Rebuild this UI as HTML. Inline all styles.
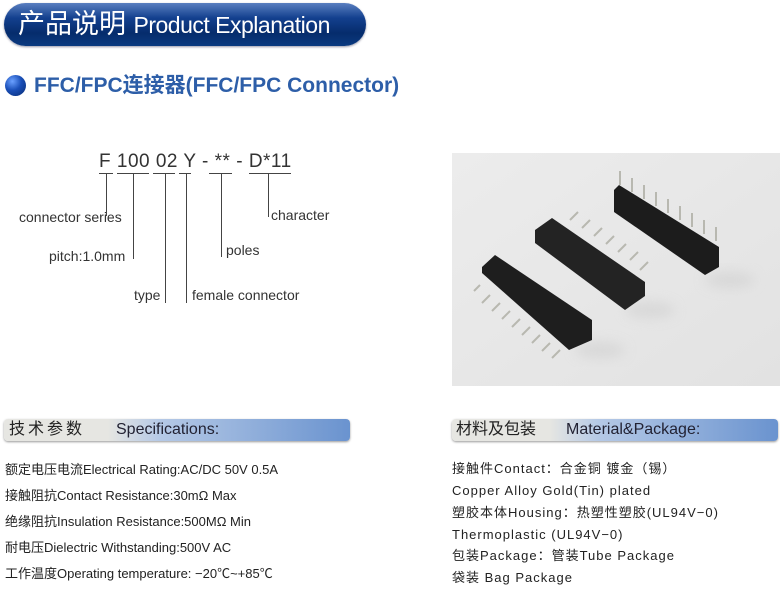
<!DOCTYPE html>
<html><head><meta charset="utf-8"><style>
body{margin:0;width:780px;height:591px;background:#fff;position:relative;overflow:hidden;font-family:"Liberation Sans","Noto Sans CJK SC",sans-serif}
.a{position:absolute;white-space:nowrap}
.pill{left:4px;top:3px;width:362px;height:43px;border-radius:22px;background:linear-gradient(#5a7fc0 0%,#13408e 35%,#062c6c 70%,#0a3a80 100%);box-shadow:0 1px 2px #99a}
.ln{position:absolute;background:#444}
.d{font-size:14px;color:#333;line-height:16px}
.bar{height:22px;border-radius:4px;background:linear-gradient(90deg,#e6e6e2 0%,#e6e6e2 30%,#b5c9e6 45%,#6a93cf 100%);box-shadow:0 1px 2px #999}
.bt{font-size:16px;color:#222;line-height:22px;top:419px}
.s{font-size:13px;color:#222;line-height:16px}
.r{font-size:13px;color:#222;letter-spacing:1px;line-height:18px}
</style></head><body>
<div class="a pill"></div>
<div class="a" style="left:18px;top:7px;color:#fff;font-size:27px;line-height:34px">产品说明 <span style="font-size:23px;letter-spacing:-0.5px">Product Explanation</span></div>
<div class="a" style="left:5px;top:75px;width:21px;height:21px;border-radius:50%;background:radial-gradient(circle at 35% 30%,#6aa0ff,#1a4fb8 45%,#062a70 100%)"></div>
<div class="a" style="left:34px;top:72px;color:#2d5ea8;font-size:21px;font-weight:bold;line-height:28px">FFC/FPC连接器(FFC/FPC Connector)</div>

<div class="a" style="left:99px;top:151px;font-size:19px;color:#333;letter-spacing:0.5px;line-height:22px">F 100 02 Y - ** - D*11</div>
<div class="ln" style="left:99px;top:173px;width:14px;height:1px"></div>
<div class="ln" style="left:117px;top:173px;width:32px;height:1px"></div>
<div class="ln" style="left:153px;top:173px;width:22px;height:1px"></div>
<div class="ln" style="left:179px;top:173px;width:12px;height:1px"></div>
<div class="ln" style="left:209px;top:173px;width:23px;height:1px"></div>
<div class="ln" style="left:249px;top:173px;width:42px;height:1px"></div>
<div class="ln" style="left:106px;top:173px;width:1px;height:43px"></div>
<div class="ln" style="left:133px;top:173px;width:1px;height:86px"></div>
<div class="ln" style="left:165px;top:173px;width:1px;height:130px"></div>
<div class="ln" style="left:186px;top:173px;width:1px;height:130px"></div>
<div class="ln" style="left:221px;top:173px;width:1px;height:84px"></div>
<div class="ln" style="left:268px;top:173px;width:1px;height:44px"></div>
<div class="a d" style="left:19px;top:209px">connector series</div>
<div class="a d" style="left:49px;top:248px">pitch:1.0mm</div>
<div class="a d" style="left:134px;top:287px">type</div>
<div class="a d" style="left:192px;top:287px">female connector</div>
<div class="a d" style="left:226px;top:242px">poles</div>
<div class="a d" style="left:271px;top:207px">character</div>

<svg class="a" style="left:452px;top:153px" width="328" height="233" viewBox="452 153 328 233">
<defs><linearGradient id="bg" x1="0" y1="0" x2="1" y2="1"><stop offset="0" stop-color="#ececec"/><stop offset="1" stop-color="#e2e2e2"/></linearGradient>
<filter id="bl"><feGaussianBlur stdDeviation="6"/></filter></defs>
<rect x="452" y="153" width="328" height="233" fill="url(#bg)"/>
<g filter="url(#bl)" fill="#cfcfcf" opacity=".6">
<ellipse cx="600" cy="350" rx="25" ry="8"/>
<ellipse cx="650" cy="310" rx="25" ry="8"/>
<ellipse cx="730" cy="280" rx="25" ry="8"/></g>
<g stroke="#b8b8b0" stroke-width="2">
<path d="M480 285l-6 6M490 295l-8 8M500 303l-8 8M510 311l-8 8M520 319l-8 8M530 327l-8 8M540 335l-8 8M550 343l-8 8M560 350l-8 8"/>
<path d="M570 220l8-8M582 228l8-8M594 236l8-8M606 244l8-8M618 252l8-8M630 260l8-8M640 270l8-8"/>
<path d="M620 185v-14M632 192v-14M644 199v-14M656 206v-14M668 213v-14M680 220v-14M692 227v-14M704 234v-14M716 241v-14"/>
</g>
<polygon points="482,267 495,255 592,320 592,340 569,350 482,273" fill="#1e1e1e"/>
<polygon points="535,230 552,218 645,282 645,296 625,310 535,243" fill="#232323"/>
<polygon points="614,190 619,185 719,247 719,267 705,275 614,212" fill="#1c1c1c"/>
</svg>

<div class="a bar" style="left:4px;top:419px;width:346px"></div>
<div class="a bt" style="left:9px;letter-spacing:3px">技术参数</div>
<div class="a bt" style="left:116px;color:#223">Specifications:</div>
<div class="a bar" style="left:452px;top:419px;width:326px"></div>
<div class="a bt" style="left:456px">材料及包装</div>
<div class="a bt" style="left:566px;color:#223">Material&amp;Package:</div>

<div class="a s" style="left:5px;top:462px">额定电压电流Electrical Rating:AC/DC 50V 0.5A</div>
<div class="a s" style="left:5px;top:488px">接触阻抗Contact Resistance:30mΩ Max</div>
<div class="a s" style="left:5px;top:514px">绝缘阻抗Insulation Resistance:500MΩ Min</div>
<div class="a s" style="left:5px;top:540px">耐电压Dielectric Withstanding:500V AC</div>
<div class="a s" style="left:5px;top:566px">工作温度Operating temperature: −20℃~+85℃</div>

<div class="a r" style="left:452px;top:460px">接触件Contact：合金铜 镀金（锡）</div>
<div class="a r" style="left:452px;top:482px">Copper Alloy Gold(Tin) plated</div>
<div class="a r" style="left:452px;top:504px">塑胶本体Housing：热塑性塑胶(UL94V−0)</div>
<div class="a r" style="left:452px;top:526px">Thermoplastic (UL94V−0)</div>
<div class="a r" style="left:452px;top:547px">包装Package：管装Tube Package</div>
<div class="a r" style="left:452px;top:569px">袋装 Bag Package</div>
</body></html>
